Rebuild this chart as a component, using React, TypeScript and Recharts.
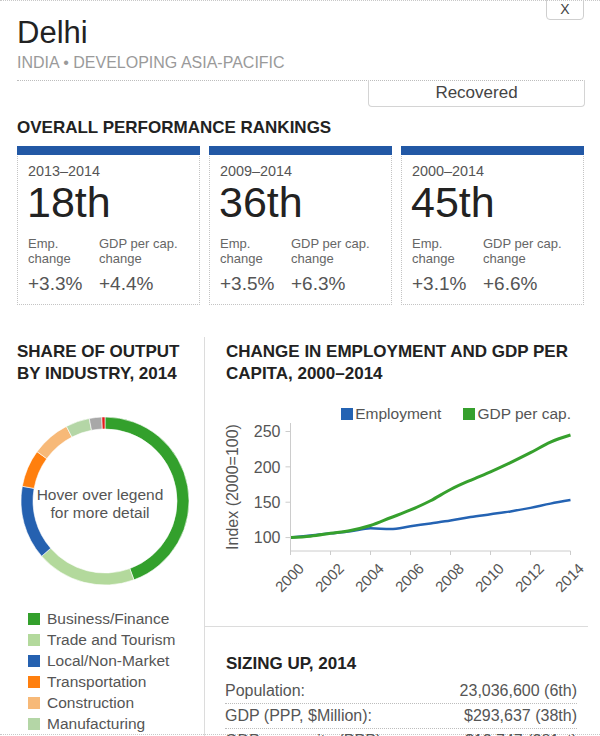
import React from 'react'
import { LineChart, Line, XAxis, YAxis, Legend, PieChart, Pie, Cell } from 'recharts'

// line chart: index, 2000 = 100
const years = [2000, 2001, 2002, 2003, 2004, 2005, 2006, 2007, 2008, 2009, 2010, 2011, 2012, 2013, 2014]
const employment = [100, 103, 106, 109, 113, 112, 116, 120, 124, 129, 133, 137, 142, 148, 153]
const gdpPerCap = [100, 102, 106, 110, 117, 128, 139, 152, 168, 181, 193, 206, 220, 235, 245]
const yearTicks = [2000, 2002, 2004, 2006, 2008, 2010, 2012, 2014]
const indexTicks = [100, 150, 200, 250]

// donut: share of output, %
const industries = ['Business/Finance', 'Trade and Tourism', 'Local/Non-Market', 'Transportation', 'Construction', 'Manufacturing', 'Utilities', 'Commodities']
const industryShares = [44.4, 19.2, 14.2, 7.2, 7.4, 4.6, 2.4, 0.6]
const industryColors = ['#33a02c', '#b3d99c', '#2561b0', '#ff7f0e', '#f7b978', '#b4d6a6', '#a8a8a8', '#e31a1c']

// ranking cards
const periods = ['2013–2014', '2009–2014', '2000–2014']
const ranks = ['18th', '36th', '45th']
const empChange = ['+3.3%', '+3.5%', '+3.1%']
const gdpChange = ['+4.4%', '+6.3%', '+6.6%']

// sizing up
const sizingLabels = ['Population:', 'GDP (PPP, $Million):', 'GDP per capita (PPP):']
const sizingValues = ['23,036,600 (6th)', '$293,637 (38th)', '$12,747 (281st)']

const lineData = years.map((year, i) => ({ year, employment: employment[i], gdp: gdpPerCap[i] }))
const pieData = industries.map((name, i) => ({ name, value: industryShares[i] }))

const FONT = '"Liberation Sans", Arial, sans-serif'
const cardLefts = [17, 209, 401]

function RankCard({ i }: { i: number }) {
  return (
    <div
      style={{
        position: 'absolute',
        left: cardLefts[i],
        top: 146,
        width: 183,
        height: 159,
        boxSizing: 'border-box',
        border: '1px dotted #c4c4c4',
        borderTop: 'none',
      }}
    >
      <div style={{ position: 'absolute', left: -1, right: -1, top: 0, height: 9, background: '#2258a5' }} />
      <div style={{ position: 'absolute', left: 10, top: 16.7, fontSize: 14.4, lineHeight: '16px', color: '#555' }}>
        {periods[i]}
      </div>
      <div style={{ position: 'absolute', left: 9, top: 35, fontSize: 43, lineHeight: 1, color: '#222' }}>{ranks[i]}</div>
      <div style={{ position: 'absolute', left: 10, top: 90, fontSize: 13, lineHeight: '15px', color: '#666' }}>
        Emp.
        <br />
        change
      </div>
      <div style={{ position: 'absolute', left: 81, top: 90, fontSize: 13, lineHeight: '15px', color: '#666' }}>
        GDP per cap.
        <br />
        change
      </div>
      <div style={{ position: 'absolute', left: 10, top: 128, fontSize: 19, lineHeight: 1, color: '#555' }}>{empChange[i]}</div>
      <div style={{ position: 'absolute', left: 81, top: 128, fontSize: 19, lineHeight: 1, color: '#555' }}>{gdpChange[i]}</div>
    </div>
  )
}

function LineLegend({ payload }: any) {
  return (
    <div style={{ display: 'flex', justifyContent: 'flex-end', fontSize: 15.5, color: '#555', fontFamily: FONT }}>
      {(payload || []).map((p: any) => (
        <div key={p.value} style={{ display: 'flex', alignItems: 'center', marginLeft: 22 }}>
          <span style={{ width: 12, height: 12, background: p.color, marginRight: 2, display: 'inline-block' }} />
          <span>{p.value}</span>
        </div>
      ))}
    </div>
  )
}

const titleStyle: React.CSSProperties = {
  position: 'absolute',
  fontSize: 17,
  fontWeight: 'bold',
  lineHeight: '22px',
  color: '#222',
}

export default function App() {
  return (
    <div
      style={{
        position: 'absolute',
        left: 0,
        top: 0,
        width: 600,
        height: 736,
        overflow: 'hidden',
        background: '#fff',
        fontFamily: FONT,
      }}
    >
      <div style={{ position: 'absolute', left: 0, top: 0, width: 600, borderTop: '1px dotted #c8c8c8' }} />
      <div style={{ position: 'absolute', left: 0, top: 734, width: 600, borderTop: '1px dotted #c8c8c8' }} />

      {/* close button */}
      <div
        style={{
          position: 'absolute',
          left: 546,
          top: -4,
          width: 38,
          height: 24,
          boxSizing: 'border-box',
          border: '1px solid #cfcfcf',
          borderRadius: '0 0 4px 4px',
          textAlign: 'center',
          fontSize: 14,
          lineHeight: '24px',
          color: '#444',
        }}
      >
        X
      </div>

      {/* header */}
      <div style={{ position: 'absolute', left: 17, top: 16.5, fontSize: 31, lineHeight: 1, color: '#222' }}>Delhi</div>
      <div style={{ position: 'absolute', left: 17, top: 55, fontSize: 16, lineHeight: 1, color: '#9a9a9a' }}>
        INDIA • DEVELOPING ASIA-PACIFIC
      </div>
      <div style={{ position: 'absolute', left: 17, top: 80, width: 568, borderTop: '1px dotted #bdbdbd' }} />
      <div
        style={{
          position: 'absolute',
          left: 368,
          top: 80,
          width: 217,
          height: 27,
          boxSizing: 'border-box',
          border: '1px solid #d4d4d4',
          borderTop: 'none',
          borderRadius: '0 0 4px 4px',
          textAlign: 'center',
          fontSize: 17,
          lineHeight: '26px',
          color: '#444',
        }}
      >
        Recovered
      </div>

      {/* rankings */}
      <div style={{ ...titleStyle, left: 17, top: 117 }}>OVERALL PERFORMANCE RANKINGS</div>
      {[0, 1, 2].map((i) => (
        <RankCard key={i} i={i} />
      ))}

      {/* dividers */}
      <div style={{ position: 'absolute', left: 204, top: 337, height: 400, borderLeft: '1px solid #dcdcdc' }} />
      <div style={{ position: 'absolute', left: 205, top: 626, width: 383, borderTop: '1px solid #dcdcdc' }} />

      {/* share of output */}
      <div style={{ ...titleStyle, left: 17, top: 341.4 }}>
        SHARE OF OUTPUT
        <br />
        BY INDUSTRY, 2014
      </div>
      <div style={{ position: 'absolute', left: 0, top: 396 }}>
        <PieChart width={200} height={200}>
          <Pie
            data={pieData}
            dataKey="value"
            nameKey="name"
            cx={100}
            cy={100}
            innerRadius={72}
            outerRadius={84}
            startAngle={90}
            endAngle={-270}
            stroke="#fff"
            strokeWidth={0.6}
            isAnimationActive={false}
          >
            {pieData.map((d, i) => (
              <Cell key={d.name} fill={industryColors[i]} />
            ))}
          </Pie>
        </PieChart>
      </div>
      <div
        style={{
          position: 'absolute',
          left: 0,
          top: 486,
          width: 200,
          textAlign: 'center',
          fontSize: 15.5,
          lineHeight: '18px',
          color: '#555',
        }}
      >
        Hover over legend
        <br />
        for more detail
      </div>
      {industries.map((name, i) => (
        <div
          key={name}
          style={{
            position: 'absolute',
            left: 28,
            top: 608.5 + i * 21,
            height: 21,
            display: 'flex',
            alignItems: 'center',
            fontSize: 15.5,
            color: '#555',
          }}
        >
          <span style={{ width: 12, height: 12, background: industryColors[i], marginRight: 7, display: 'inline-block' }} />
          {name}
        </div>
      ))}

      {/* employment and gdp */}
      <div style={{ ...titleStyle, left: 226, top: 341.4 }}>
        CHANGE IN EMPLOYMENT AND GDP PER
        <br />
        CAPITA, 2000–2014
      </div>
      <div style={{ position: 'absolute', left: 205, top: 395 }}>
        <LineChart width={395} height={200} data={lineData} margin={{ top: 28, right: 29.5, bottom: 0, left: 15 }}>
          <XAxis
            dataKey="year"
            type="number"
            domain={[2000, 2014]}
            ticks={yearTicks}
            interval={0}
            height={44}
            axisLine={{ stroke: '#cccccc' }}
            tickLine={{ stroke: '#cccccc' }}
            tickSize={4}
            tickMargin={7}
            tick={{ angle: -45, textAnchor: 'end', dx: 7, fontSize: 15, fill: '#555', fontFamily: FONT }}
          />
          <YAxis
            type="number"
            domain={[81, 262]}
            ticks={indexTicks}
            width={70.5}
            axisLine={{ stroke: '#cccccc' }}
            tickLine={{ stroke: '#cccccc' }}
            tickSize={5}
            tickMargin={5}
            tick={{ fontSize: 16, fill: '#555', fontFamily: FONT }}
            label={{
              value: 'Index (2000=100)',
              angle: -90,
              position: 'insideLeft',
              offset: 12,
              style: { textAnchor: 'middle', fontSize: 16, fill: '#555', fontFamily: FONT },
            }}
          />
          <Legend
            verticalAlign="middle"
            align="center"
            content={<LineLegend />}
            wrapperStyle={{ top: 9.5, left: 86, width: 280 }}
          />
          <Line
            type="monotone"
            dataKey="employment"
            name="Employment"
            stroke="#2463b3"
            strokeWidth={2.5}
            dot={false}
            isAnimationActive={false}
          />
          <Line
            type="monotone"
            dataKey="gdp"
            name="GDP per cap."
            stroke="#36a02d"
            strokeWidth={3}
            dot={false}
            isAnimationActive={false}
          />
        </LineChart>
      </div>

      {/* sizing up */}
      <div style={{ ...titleStyle, left: 226, top: 653 }}>SIZING UP, 2014</div>
      {sizingLabels.map((label, i) => (
        <div
          key={label}
          style={{
            position: 'absolute',
            left: 225,
            top: 679.2 + i * 25,
            width: 352,
            height: 24,
            borderBottom: '1px dotted #bdbdbd',
            display: 'flex',
            justifyContent: 'space-between',
            fontSize: 16,
            lineHeight: '24px',
            color: '#555',
          }}
        >
          <span>{label}</span>
          <span>{sizingValues[i]}</span>
        </div>
      ))}
    </div>
  )
}
